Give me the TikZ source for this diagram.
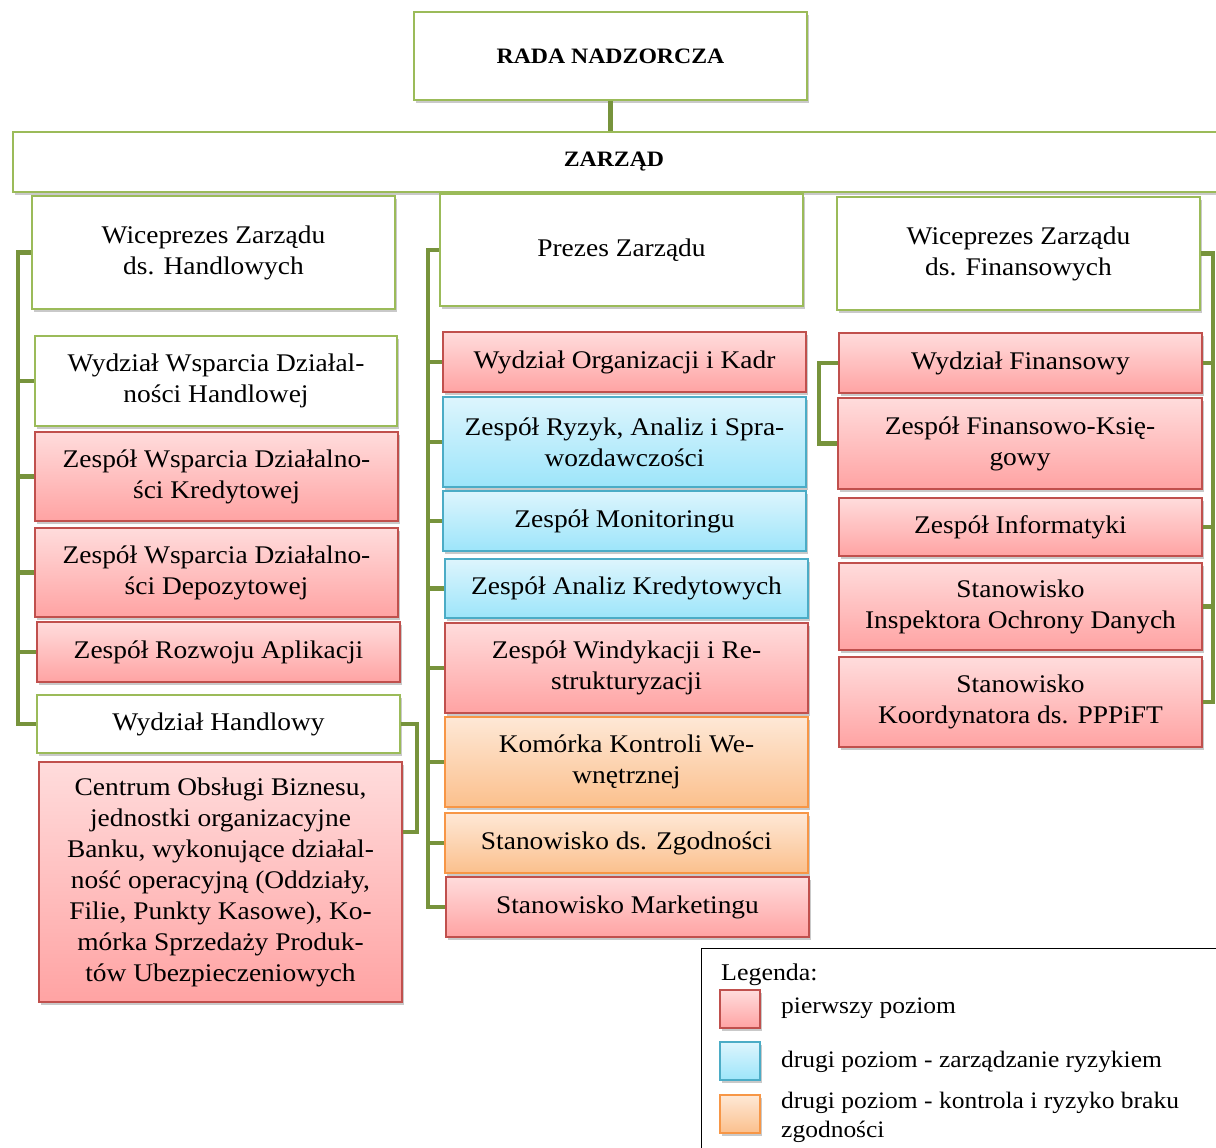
\documentclass[tikz,border=0pt]{standalone}
\usepackage{fontspec}
\setmainfont{Liberation Serif}[FakeStretch=1.08]
\usetikzlibrary{shadows,calc}
\definecolor{grn}{HTML}{9BBB59}
\definecolor{conn}{HTML}{77933C}
\definecolor{pbrd}{HTML}{C0504D}
\definecolor{ptop}{HTML}{FFDCDC}
\definecolor{pbot}{HTML}{FFA3A3}
\definecolor{bbrd}{HTML}{4BACC6}
\definecolor{btop}{HTML}{DDF5FD}
\definecolor{bbot}{HTML}{9DE5FA}
\definecolor{obrd}{HTML}{F79646}
\definecolor{otop}{HTML}{FEE8D6}
\definecolor{obot}{HTML}{FBC08D}
\begin{document}
\begin{tikzpicture}[x=1pt,y=-1pt,
  base/.style={draw, line width=1.8pt, inner sep=1pt, align=center,
    font=\fontsize{25.4}{31}\selectfont,
    drop shadow={shadow xshift=1.5pt, shadow yshift=-3pt, opacity=0.3, fill=black!70}},
  gbox/.style={base, draw=grn, fill=white},
  pbox/.style={base, draw=pbrd, top color=ptop, bottom color=pbot},
  bbox/.style={base, draw=bbrd, top color=btop, bottom color=bbot},
  obox/.style={base, draw=obrd, top color=otop, bottom color=obot},
  sz/.style 2 args={minimum width=#1pt, minimum height=#2pt},
  link/.style={draw=conn, line width=4.5pt, line join=miter},
  sw/.style={draw, line width=1.6pt, minimum width=40pt, minimum height=38pt, inner sep=0pt,
    drop shadow={shadow xshift=1.5pt, shadow yshift=-3pt, opacity=0.3, fill=black!70}},
  lgtext/.style={anchor=west, align=left, inner sep=0pt, font=\fontsize{23.6}{29}\selectfont}
]
\useasboundingbox (0,0) rectangle (1216,1148);

% top
\node[gbox, sz={393}{88}, font=\fontsize{22}{28}\selectfont\bfseries] (rada) at (610.5,56) {RADA NADZORCZA};
\node[gbox, sz={1212}{60}, font=\fontsize{22}{28}\selectfont\bfseries] (zarzad) at (619,162) {\hspace*{-10pt}ZARZĄD};

\node[gbox, sz={363}{113}] (wh) at (213.5,252.5) {Wiceprezes Zarządu\\ds. Handlowych};
\node[gbox, sz={363}{112}] (pz) at (621.5,250) {Prezes Zarządu};
\node[gbox, sz={363}{113}] (wf) at (1018.5,253.5) {Wiceprezes Zarządu\\ds. Finansowych};

% left column
\node[gbox, sz={362}{90}] (l1) at (216,381) {Wydział Wsparcia Działal-\\ności Handlowej};
\node[pbox, sz={363}{89}] (l2) at (216.5,476.5) {Zespół Wsparcia Działalno-\\ści Kredytowej};
\node[pbox, sz={363}{89}] (l3) at (216.5,572.5) {Zespół Wsparcia Działalno-\\ści Depozytowej};
\node[pbox, sz={363}{60}] (l4) at (218.5,652) {Zespół Rozwoju Aplikacji};
\node[gbox, sz={363}{58}] (l5) at (218.5,724) {Wydział Handlowy};
\node[pbox, sz={363}{240}] (l6) at (220.5,882) {Centrum Obsługi Biznesu,\\jednostki organizacyjne\\Banku, wykonujące działal-\\ność operacyjną (Oddziały,\\Filie, Punkty Kasowe), Ko-\\mórka Sprzedaży Produk-\\tów Ubezpieczeniowych};

% middle column
\node[pbox, sz={363}{60}] (m1) at (624.5,362) {Wydział Organizacji i Kadr};
\node[bbox, sz={363}{90}] (m2) at (624.5,442) {Zespół Ryzyk, Analiz i Spra-\\wozdawczości};
\node[bbox, sz={363}{60}] (m3) at (624.5,521) {Zespół Monitoringu};
\node[bbox, sz={363}{59}] (m4) at (626.5,588.5) {Zespół Analiz Kredytowych};
\node[pbox, sz={363}{90}] (m5) at (626.5,668) {Zespół Windykacji i Re-\\strukturyzacji};
\node[obox, sz={363}{90}] (m6) at (626.5,762) {Komórka Kontroli We-\\wnętrznej};
\node[obox, sz={363}{60}] (m7) at (626.5,843) {Stanowisko ds. Zgodności};
\node[pbox, sz={363}{60}] (m8) at (627.5,907) {Stanowisko Marketingu};

% right column
\node[pbox, sz={363}{60}] (r1) at (1020.5,363) {Wydział Finansowy};
\node[pbox, sz={364}{91}] (r2) at (1020,443.5) {Zespół Finansowo-Księ-\\gowy};
\node[pbox, sz={363}{58}] (r3) at (1020.5,527) {Zespół Informatyki};
\node[pbox, sz={363}{87}] (r4) at (1020.5,606.5) {Stanowisko\\Inspektora Ochrony Danych};
\node[pbox, sz={363}{90}] (r5) at (1020.5,702) {Stanowisko\\Koordynatora ds. PPPiFT};

% connectors
\draw[link] (rada.south) -- (zarzad.north -| rada.south);

\coordinate (busL) at (18,252.5);
\draw[link] (wh.west) -- (busL) |- (l5.west);
\foreach \n in {l1,l2,l3,l4} \draw[link] (\n.west) -- (\n.west -| busL);

\coordinate (busM) at (428,250);
\draw[link] (pz.west) -- (busM) |- (m8.west);
\foreach \n in {m1,m2,m3,m4,m5,m6,m7} \draw[link] (\n.west) -- (\n.west -| busM);

\coordinate (busR) at (1213,253.5);
\draw[link] (wf.east) -- (busR) |- (r5.east);
\foreach \n in {r1,r3,r4} \draw[link] (\n.east) -- (\n.east -| busR);

\draw[link] (r1.west) -- ++(-19,0) |- (r2.west);
\draw[link] (l5.east) -- ++(16,0) |- ([yshift=50pt]l6.east);

% legend
\node[draw=black, line width=1pt, minimum width=530pt, minimum height=220pt, inner sep=0pt] (leg) at (966,1058) {};
\node[lgtext, font=\fontsize{24}{29}\selectfont] (legt) at (721,975) {Legenda:};
\node[sw, draw=pbrd, top color=ptop, bottom color=pbot] (s1) at (740,1009) {};
\node[sw, draw=bbrd, top color=btop, bottom color=bbot] (s2) at (740,1061) {};
\node[sw, draw=obrd, top color=otop, bottom color=obot] (s3) at (740,1114) {};
\node[lgtext] (t1) at (781,1008) {pierwszy poziom};
\node[lgtext] (t2) at (781,1062) {drugi poziom - zarządzanie ryzykiem};
\node[lgtext] (t3) at (781,1117) {drugi poziom - kontrola i ryzyko braku\\zgodności};
\end{tikzpicture}
\end{document}
